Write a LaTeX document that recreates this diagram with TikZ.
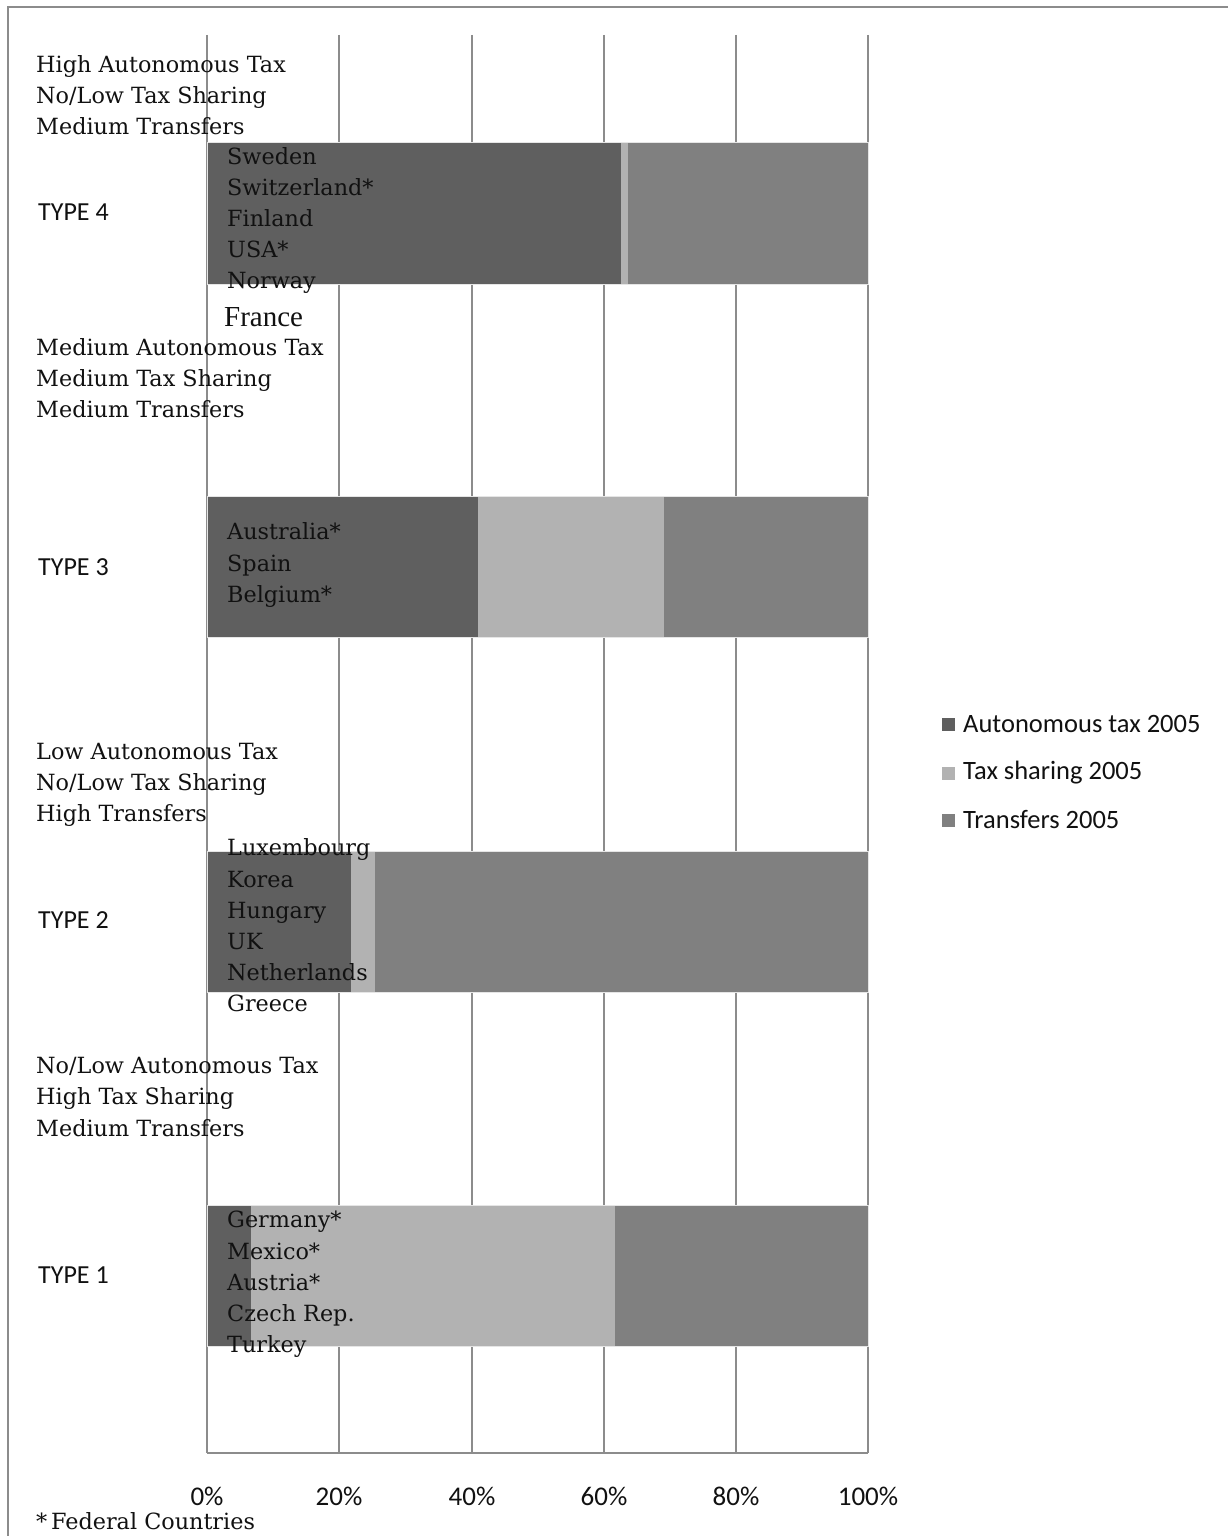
\documentclass[tikz,border=0pt]{standalone}
\usepackage{fontspec}
\setmainfont{Liberation Serif}
\newfontfamily\calib{Carlito}
\newfontfamily\camb{DejaVu Serif}[Scale=0.93]
\definecolor{cauto}{HTML}{5F5F5F}
\definecolor{cshare}{HTML}{B2B2B2}
\definecolor{ctrans}{HTML}{808080}
\definecolor{gridc}{HTML}{8C8C8C}
\definecolor{txt}{HTML}{111111}
\tikzset{
  serif/.style={inner sep=0pt, anchor=west, align=left, text=txt, font=\camb\fontsize{24}{31.2}\selectfont},
  typelab/.style={inner sep=0pt, anchor=west, text=txt, font=\calib\fontsize{26}{30}\selectfont},
  barseg/.style={draw=white!80!gray, line width=0.8pt},
  gridline/.style={draw=gridc, line width=1.2pt},
  legbox/.style={minimum size=13pt, inner sep=0pt},
  legtext/.style={inner sep=0pt, anchor=west, text=txt, font=\calib\fontsize{26.5}{30}\selectfont},
  axlab/.style={inner sep=0pt, text=txt, font=\calib\fontsize{27}{30}\selectfont}
}
\begin{document}
\begin{tikzpicture}[x=1pt,y=-1pt]
\useasboundingbox (0,0) rectangle (1227,1536);
\fill[white] (0,0) rectangle (1227,1536);
% frame
\draw[draw=gray!90, line width=2pt] (8,1540) -- (8,7) -- (1232,7);
% grid
\foreach \gx in {207,339,472,604,736,868}{\draw[gridline] (\gx,35) -- (\gx,1453);}
\draw[gridline] (207,1453) -- (868,1453);
% bars
% Type 4
\fill[cauto] (207,142) rectangle (621,284);
\fill[cshare] (621,142) rectangle (628,284);
\fill[ctrans] (628,142) rectangle (868,284);
\draw[barseg] (207,142) rectangle (868,284);
% Type 3
\fill[cauto] (207,496) rectangle (478,637);
\fill[cshare] (478,496) rectangle (664,637);
\fill[ctrans] (664,496) rectangle (868,637);
\draw[barseg] (207,496) rectangle (868,637);
% Type 2
\fill[cauto] (207,851) rectangle (351,992);
\fill[cshare] (351,851) rectangle (375,992);
\fill[ctrans] (375,851) rectangle (868,992);
\draw[barseg] (207,851) rectangle (868,992);
% Type 1
\fill[cauto] (207,1205) rectangle (251,1346);
\fill[cshare] (251,1205) rectangle (615,1346);
\fill[ctrans] (615,1205) rectangle (868,1346);
\draw[barseg] (207,1205) rectangle (868,1346);
% group descriptions
\node[serif] (d4) at (36,95) {High Autonomous Tax\\No/Low Tax Sharing\\Medium Transfers};
\node[serif] (d3) at (36,378) {Medium Autonomous Tax\\Medium Tax Sharing\\Medium Transfers};
\node[serif] (d2) at (36,785) {Low Autonomous Tax\\No/Low Tax Sharing\\High Transfers};
\node[serif] (d1) at (36,1097) {No/Low Autonomous Tax\\High Tax Sharing\\Medium Transfers};
% type labels
\node[typelab] (t4) at (38,212) {TYPE 4};
\node[typelab] (t3) at (38,567) {TYPE 3};
\node[typelab] (t2) at (38,920) {TYPE 2};
\node[typelab] (t1) at (38,1275) {TYPE 1};
% countries
\node[serif] (c4) at (227,220.5) {Sweden\\Switzerland*\\Finland\\USA*\\Norway};
\node[inner sep=0pt, anchor=west, text=txt, font=\fontsize{29}{32}\selectfont] (fr) at (224,317) {France};
\node[serif] (c3) at (227,565) {Australia*\\Spain\\Belgium*};
\node[serif] (c2) at (227,925.5) {Luxembourg\\Korea\\Hungary\\UK\\Netherlands\\Greece};
\node[serif] (c1) at (227,1284.5) {Germany*\\Mexico*\\Austria*\\Czech Rep.\\Turkey};
% axis labels
\node[axlab] (a0) at (207,1496) {0\%};
\node[axlab] (a20) at (339,1496) {20\%};
\node[axlab] (a40) at (472,1496) {40\%};
\node[axlab] (a60) at (604,1496) {60\%};
\node[axlab] (a80) at (736,1496) {80\%};
\node[axlab] (a100) at (868,1496) {100\%};
\node[serif] (fed) at (36,1521) {*\,Federal Countries};
% legend
\node[legbox, fill=cauto] (l1) at (948.5,724) {};
\node[legbox, fill=cshare] (l2) at (948.5,773) {};
\node[legbox, fill=ctrans] (l3) at (948.5,820) {};
\node[legtext] (lt1) at (963,724) {Autonomous tax 2005};
\node[legtext] (lt2) at (963,773) {Tax sharing 2005};
\node[legtext] (lt3) at (963,820) {Transfers 2005};
\end{tikzpicture}
\end{document}
